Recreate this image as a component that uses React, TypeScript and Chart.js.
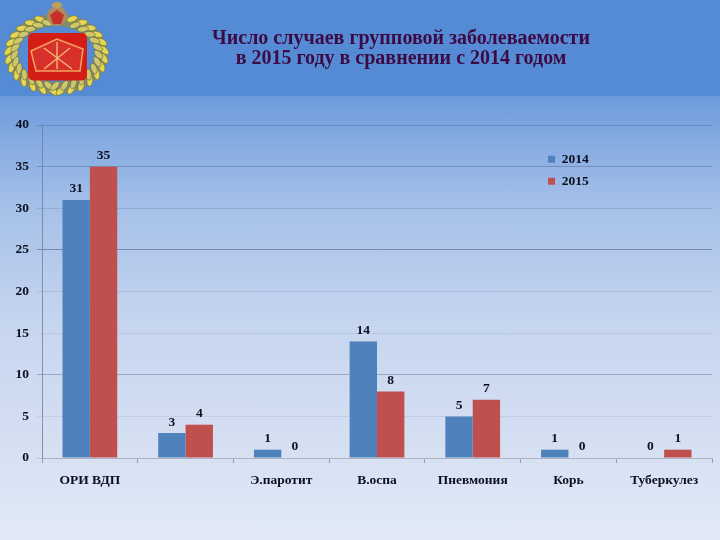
import React, { useEffect, useRef } from "react";
import { Chart, registerables } from "chart.js";

Chart.register(...registerables);

const categories = ["ОРИ ВДП", "", "Э.паротит", "В.оспа", "Пневмония", "Корь", "Туберкулез"];
const values2014 = [31, 3, 1, 14, 5, 1, 0];
const values2015 = [35, 4, 0, 8, 7, 0, 1];
const seriesNames = ["2014", "2015"];
const titleLines = ["Число случаев групповой заболеваемости", "в 2015 году в сравнении с 2014 годом"];
// gridline strength, keyed by the tick value it belongs to
const gridStrength: Record<number, number> = { 40: 0.38, 35: 0.42, 30: 0.2, 25: 0.6, 20: 0.16, 15: 0.1, 10: 0.42, 5: 0.12, 0: 0.2 };

const SERIF = "'Liberation Serif', serif";
const INK = "#0d1020";

const placeElements = {
  id: "placeElements",
  afterLayout(chart: any) {
    const legend = chart.legend;
    const w = legend.width;
    const h = legend.height;
    legend.left = 539.5;
    legend.right = 539.5 + w;
    legend.top = 144;
    legend.bottom = 144 + h;
    const t = chart.titleBlock;
    t.left = 41;
    t.right = 761;
  },
};

const valueLabels = {
  id: "valueLabels",
  afterDatasetsDraw(chart: any) {
    const ctx = chart.ctx;
    ctx.save();
    ctx.font = `bold 13.5px ${SERIF}`;
    ctx.fillStyle = INK;
    ctx.textAlign = "center";
    ctx.textBaseline = "middle";
    chart.data.datasets.forEach((ds: any, i: number) => {
      chart.getDatasetMeta(i).data.forEach((bar: any, j: number) => {
        ctx.fillText(String(ds.data[j]), bar.x, bar.y - 11);
      });
    });
    ctx.restore();
  },
};

function Emblem() {
  const cx = 56.5;
  const cy = 54;
  const rows = [
    { rx: 48, ry: 37, fill: "#e6d653", stroke: "#6f7436" },
    { rx: 42, ry: 32, fill: "#cfc56a", stroke: "#62693a" },
  ];
  const angles: number[] = [];
  for (let a = -176; a <= 176; a += 13) if (Math.abs(a) > 16) angles.push(a);
  return (
    <svg width={120} height={100} viewBox="0 0 120 100" style={{ position: "absolute", left: 0, top: 0 }}>
      <ellipse cx={cx} cy={cy} rx={45} ry={34} fill="none" stroke="#8a8c52" strokeWidth={12} opacity={0.8} />
      {rows.map((row, k) =>
        angles.map((a) => {
          const r = ((a + k * 7) * Math.PI) / 180;
          const x = cx + row.rx * Math.sin(r);
          const y = cy - row.ry * Math.cos(r);
          const rot = a + (a > 0 ? 50 : -50);
          return (
            <ellipse
              key={`${k}-${a}`}
              cx={x}
              cy={y}
              rx={2.9}
              ry={5.6}
              fill={row.fill}
              stroke={row.stroke}
              strokeWidth={0.6}
              transform={`rotate(${rot} ${x} ${y})`}
            />
          );
        })
      )}
      <rect x={28} y={33} width={59} height={47.5} rx={5} fill="#d41d17" />
      <polygon points="31,51 57,39 83,49 80,71 36,71" fill="#d8302a" stroke="#f0a560" strokeWidth={1.5} />
      <g stroke="#f3b877" strokeWidth={1.4} fill="none">
        <line x1={57} y1={42} x2={57} y2={69} />
        <line x1={44} y1={48} x2={72} y2={69} />
        <line x1={70} y1={48} x2={44} y2={69} />
      </g>
      <ellipse cx={57} cy={16} rx={10} ry={10} fill="#b08a5c" />
      <polygon points="57,10 64,15 61,24 53,24 50,15" fill="#c62f2a" />
      <ellipse cx={57} cy={5} rx={5.5} ry={3} fill="#b9a25e" />
    </svg>
  );
}

export default function App() {
  const ref = useRef<HTMLCanvasElement>(null);
  useEffect(() => {
    const chart = new Chart(ref.current!, {
      type: "bar",
      data: {
        labels: categories,
        datasets: [
          { label: seriesNames[0], data: values2014, backgroundColor: "#4f81bd", categoryPercentage: 0.572, barPercentage: 1 },
          { label: seriesNames[1], data: values2015, backgroundColor: "#c0504d", categoryPercentage: 0.572, barPercentage: 1 },
        ],
      },
      plugins: [placeElements, valueLabels],
      options: {
        responsive: false,
        animation: false,
        layout: { padding: { left: 0, right: 8, top: 0, bottom: 0 } },
        plugins: {
          tooltip: { enabled: false },
          title: {
            display: true,
            text: titleLines,
            color: "#3c0a44",
            font: { family: SERIF, size: 20, weight: "bold", lineHeight: 1 },
            padding: { top: 29, bottom: 56 },
          },
          legend: {
            position: "chartArea",
            align: "start",
            labels: {
              boxWidth: 7,
              boxHeight: 7,
              padding: 8.5,
              color: INK,
              font: { family: SERIF, size: 13.5, weight: "bold" },
            },
          },
        },
        scales: {
          x: {
            afterFit(s: any) { s.height = 82; },
            grid: {
              display: true,
              drawOnChartArea: false,
              drawTicks: true,
              tickLength: 5,
              color: "rgba(120,130,150,0.7)",
              offset: true,
            },
            border: { color: "rgba(170,178,195,0.9)", width: 1 },
            ticks: {
              color: INK,
              padding: 9,
              maxRotation: 0,
              autoSkip: false,
              font: { family: SERIF, size: 13.5, weight: "bold" },
            },
          },
          y: {
            min: 0,
            max: 40,
            afterFit(s: any) { s.width = 42; },
            grid: {
              color: (c: any) => `rgba(80,95,130,${gridStrength[c.tick?.value] ?? 0.2})`,
              tickLength: 5,
            },
            border: { color: "rgba(110,125,155,0.8)" },
            ticks: {
              stepSize: 5,
              color: INK,
              padding: 8,
              font: { family: SERIF, size: 13.5, weight: "bold" },
            },
          },
        },
      } as any,
    });
    return () => chart.destroy();
  }, []);
  return (
    <div
      style={{
        position: "fixed",
        left: 0,
        top: 0,
        width: 720,
        height: 540,
        overflow: "hidden",
        background:
          "linear-gradient(#558bd5 0, #558bd5 96px, #6d9bdc 96px, #a3bfe8 200px, #c6d5ef 320px, #d5dff2 440px, #e2eaf7 540px)",
      }}
    >
      <Emblem />
      <canvas ref={ref} width={720} height={540} style={{ position: "absolute", left: 0, top: 0, display: "block" }} />
    </div>
  );
}
